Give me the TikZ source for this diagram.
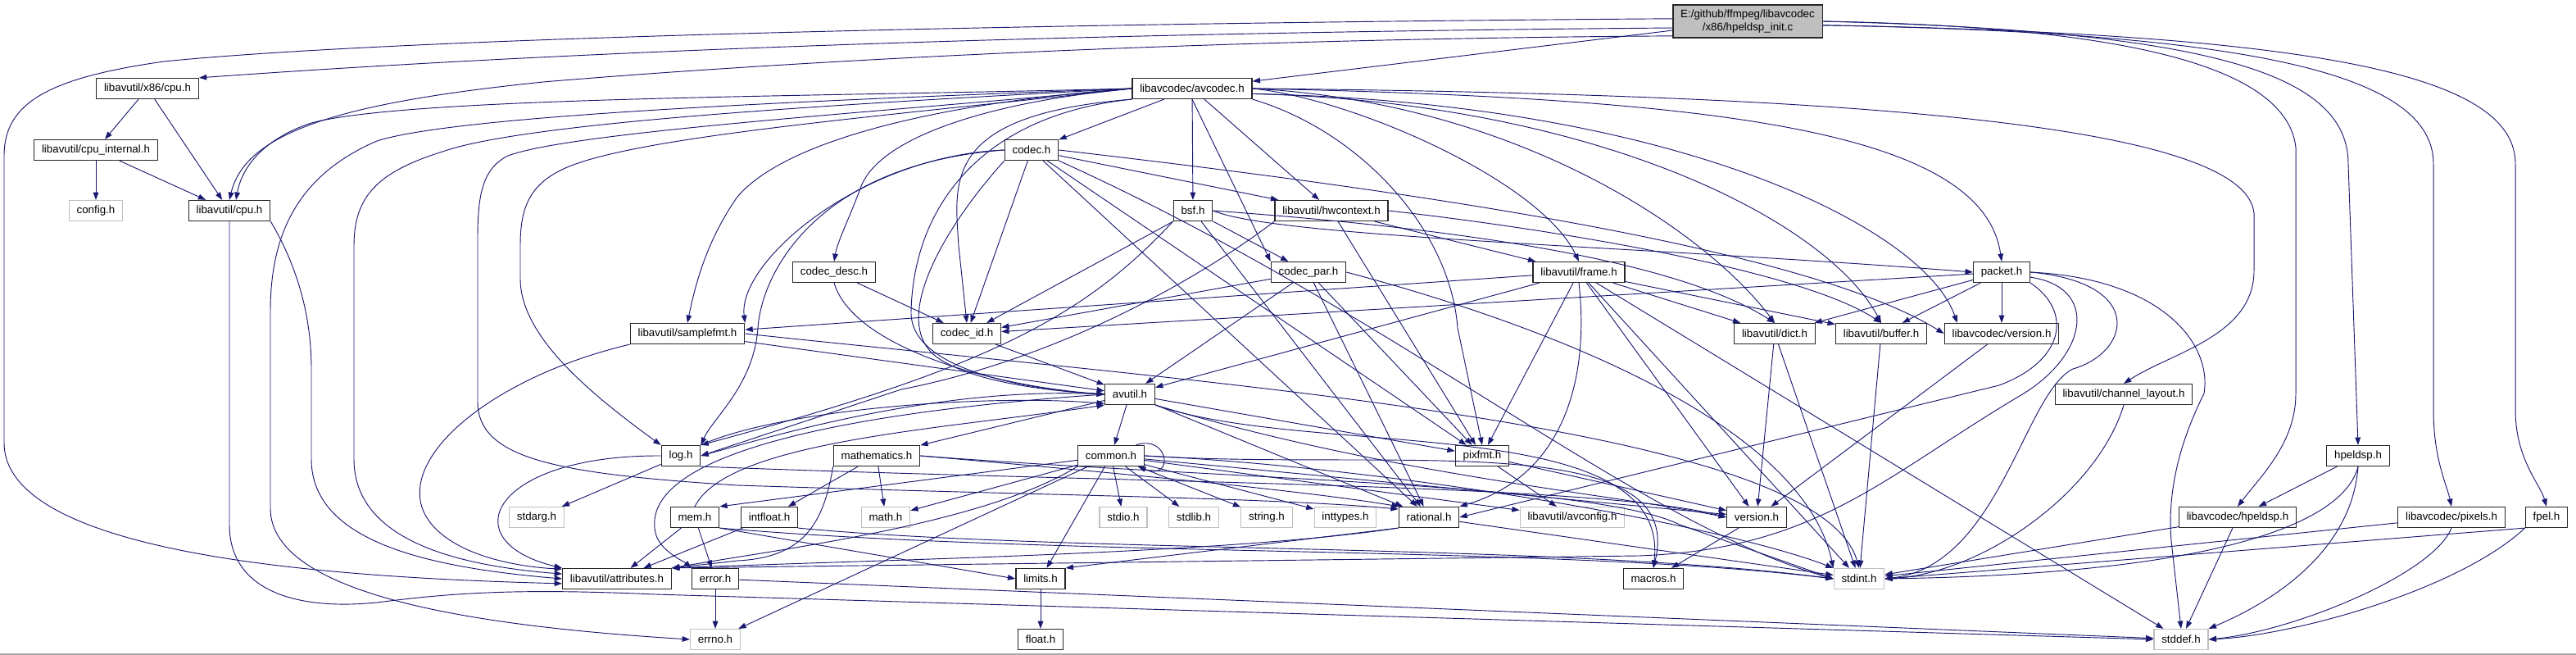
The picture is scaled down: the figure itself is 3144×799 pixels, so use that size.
\documentclass[tikz,border=0pt]{standalone}
\usepackage{fontspec}
\newfontfamily\dotfont{Liberation Sans}
\usepackage{tikz}
\usetikzlibrary{arrows.meta}
\definecolor{edgeblue}{RGB}{25,25,112}
\definecolor{sysgray}{RGB}{191,191,191}
\definecolor{framegray}{RGB}{170,170,170}

\begin{document}
\begin{tikzpicture}[x=0.75pt, y=-0.75pt,
    hdr/.style={draw=black!85, fill=white, line width=0.9pt, font=\dotfont\fontsize{10}{12}\selectfont,
      inner xsep=7pt, inner ysep=0pt, minimum height=18.75pt},
    syshdr/.style={hdr, draw=sysgray},
    rootnode/.style={hdr, fill=sysgray, align=center, minimum height=30pt, inner ysep=1pt},
    dep/.style={draw=edgeblue, line width=0.7pt, -{Triangle[length=7pt,width=5pt]}}]
\useasboundingbox (0,0) rectangle (3144,799);
\draw[framegray, line width=0.8pt] (0,798) -- (3144,798);

% headers, row by row
\node[rootnode] (root) at (2133,26) {E:/github/ffmpeg/libavcodec\\/x86/hpeldsp\_init.c};
\node[hdr] (xcpu) at (180,108) {libavutil/x86/cpu.h};
\node[hdr] (avcodec) at (1455,108) {libavcodec/avcodec.h};
\node[hdr] (cpuint) at (117,183) {libavutil/cpu\_internal.h};
\node[hdr] (codec) at (1259,183) {codec.h};
\node[syshdr] (config) at (117,257) {config.h};
\node[hdr] (cpu) at (280,257) {libavutil/cpu.h};
\node[hdr] (bsf) at (1456,257) {bsf.h};
\node[hdr] (hwctx) at (1625,257) {libavutil/hwcontext.h};
\node[hdr] (codecdesc) at (1018,332) {codec\_desc.h};
\node[hdr] (codecpar) at (1597,332) {codec\_par.h};
\node[hdr] (frame) at (1927,332) {libavutil/frame.h};
\node[hdr] (packet) at (2443,332) {packet.h};
\node[hdr] (samplefmt) at (839,407) {libavutil/samplefmt.h};
\node[hdr] (codecid) at (1180,407) {codec\_id.h};
\node[hdr] (dict) at (2166,407) {libavutil/dict.h};
\node[hdr] (buffer) at (2296,407) {libavutil/buffer.h};
\node[hdr] (lcversion) at (2443,407) {libavcodec/version.h};
\node[hdr] (avutil) at (1379,481) {avutil.h};
\node[hdr] (chlayout) at (2592,481) {libavutil/channel\_layout.h};
\node[hdr] (log) at (831,556) {log.h};
\node[hdr] (mathem) at (1070,556) {mathematics.h};
\node[hdr] (common) at (1356,556) {common.h};
\node[hdr] (pixfmt) at (1809,556) {pixfmt.h};
\node[hdr] (hpeldsp) at (2878,556) {hpeldsp.h};
\node[syshdr] (stdarg) at (655,631) {stdarg.h};
\node[hdr] (mem) at (848,631) {mem.h};
\node[hdr] (intfloat) at (939,631) {intfloat.h};
\node[syshdr] (mathh) at (1081,631) {math.h};
\node[syshdr] (stdio) at (1371,631) {stdio.h};
\node[syshdr] (stdlib) at (1457,631) {stdlib.h};
\node[syshdr] (stringh) at (1546,631) {string.h};
\node[syshdr] (inttypes) at (1642,631) {inttypes.h};
\node[hdr] (rational) at (1744,631) {rational.h};
\node[syshdr] (avconfig) at (1919,631) {libavutil/avconfig.h};
\node[hdr] (version) at (2144,631) {version.h};
\node[hdr] (lchpeldsp) at (2731,631) {libavcodec/hpeldsp.h};
\node[hdr] (pixels) at (2992,631) {libavcodec/pixels.h};
\node[hdr] (fpel) at (3108,631) {fpel.h};
\node[hdr] (attributes) at (753,706) {libavutil/attributes.h};
\node[hdr] (error) at (873,706) {error.h};
\node[hdr] (limits) at (1270,706) {limits.h};
\node[hdr] (macros) at (2018,706) {macros.h};
\node[syshdr] (stdint) at (2269,706) {stdint.h};
\node[syshdr] (errno) at (873,780) {errno.h};
\node[hdr] (floath) at (1270,780) {float.h};
\node[syshdr] (stddef) at (2662,780) {stddef.h};

% hpeldsp_init.c
\draw[dep] (root) -- (avcodec);
\draw[dep] (root.185) .. controls (1300,40) and (700,62) .. (xcpu.north east);
\draw[dep] (root.191) .. controls (1400,48) and (900,80) .. (663,100) .. controls (420,125) and (300,160) .. (cpu.north);
\draw[dep] (root.178) .. controls (1300,28) and (500,45) .. (200,75) .. controls (60,95) and (5,125) .. (5,190) -- (5,540) .. controls (5,680) and (420,705) .. (attributes.185);
\draw[dep] (root.east) .. controls (2550,32) and (2790,70) .. (2802,180) -- (2802,480) .. controls (2802,540) and (2760,580) .. (lchpeldsp.north);
\draw[dep] (root.east) .. controls (2700,38) and (2866,90) .. (2866,200) -- (hpeldsp.north);
\draw[dep] (root.357) .. controls (2750,40) and (2970,90) .. (2970,200) -- (2970,500) .. controls (2970,560) and (2986,590) .. (pixels.north);
\draw[dep] (root.357) .. controls (2850,42) and (3070,95) .. (3070,200) -- (3070,500) .. controls (3070,560) and (3100,590) .. (fpel.north);

% cpu headers
\draw[dep] (xcpu) -- (cpuint);
\draw[dep] (xcpu) -- (cpu);
\draw[dep] (cpuint) -- (config);
\draw[dep] (cpuint) -- (cpu);
\draw[dep] (cpu.south east) .. controls (360,320) and (380,380) .. (380,450) -- (380,560) .. controls (380,660) and (520,692) .. (attributes.180);
\draw[dep] (cpu.south) -- (280,640) .. controls (280,720) and (360,745) .. (460,735) .. controls (560,722) and (640,718) .. (800,725) -- (stddef.west);

% avcodec.h
\draw[dep] (avcodec.west) .. controls (1000,118) and (500,118) .. (380,150) .. controls (320,170) and (295,205) .. ([xshift=6pt]cpu.north);
\draw[dep] (avcodec.west) .. controls (1000,122) and (560,140) .. (460,172) .. controls (360,215) and (330,290) .. (330,380) -- (330,620) .. controls (330,730) and (600,765) .. (errno.west);
\draw[dep] (avcodec.west) .. controls (1000,128) and (640,150) .. (540,185) .. controls (460,210) and (432,240) .. (432,300) -- (432,560) .. controls (432,660) and (560,690) .. (attributes.175);
\draw[dep] (avcodec.west) .. controls (1100,135) and (700,160) .. (620,190) .. controls (590,205) and (583,235) .. (583,290) -- (583,490) .. controls (583,560) and (680,578) .. (900,592) .. controls (1300,605) and (1550,607) .. (rational.165);
\draw[dep] (avcodec.west) .. controls (1100,140) and (780,165) .. (690,205) .. controls (645,225) and (635,255) .. (635,300) -- (635,340) .. controls (635,410) and (720,480) .. (log.north west);
\draw[dep] (avcodec.west) .. controls (1150,125) and (960,170) .. (900,240) .. controls (865,290) and (850,340) .. (samplefmt.north);
\draw[dep] (avcodec.west) .. controls (1200,125) and (1070,170) .. (1050,230) .. controls (1035,270) and (1022,295) .. (codecdesc.north);
\draw[dep] (avcodec.south west) .. controls (1150,140) and (1165,220) .. (1170,300) -- (codecid.north);
\draw[dep] (avcodec.south west) .. controls (1200,140) and (1115,250) .. (1112,380) .. controls (1110,450) and (1250,475) .. (avutil.west);
\draw[dep] (avcodec) -- (codec);
\draw[dep] (avcodec) -- (bsf);
\draw[dep] (avcodec) -- (hwctx);
\draw[dep] (avcodec.south) -- (codecpar.north west);
\draw[dep] (avcodec.south east) .. controls (1660,160) and (1770,280) .. (1779,400) -- (pixfmt.north);
\draw[dep] (avcodec.east) .. controls (1650,120) and (1880,220) .. (frame.north);
\draw[dep] (avcodec.east) .. controls (1850,125) and (2080,280) .. (dict.north);
\draw[dep] (avcodec.355) .. controls (1950,125) and (2230,270) .. (buffer.north);
\draw[dep] (avcodec.355) .. controls (2050,125) and (2350,280) .. ([xshift=12pt]lcversion.north west);
\draw[dep] (avcodec.east) .. controls (2100,120) and (2420,160) .. (packet.north);
\draw[dep] (avcodec.east) .. controls (2250,115) and (2740,150) .. (2751,260) -- (2751,330) .. controls (2751,410) and (2650,430) .. (chlayout.north);

% codec.h
\draw[dep] (codec.west) .. controls (1050,190) and (900,320) .. (samplefmt.north east);
\draw[dep] (codec.west) .. controls (1000,200) and (930,330) .. (925,400) .. controls (920,470) and (870,510) .. (log.north east);
\draw[dep] (codec.south west) .. controls (1150,280) and (1080,400) .. (1150,440) .. controls (1200,470) and (1300,478) .. (avutil.west);
\draw[dep] (codec) -- (codecid);
\draw[dep] (codec) -- (hwctx);
\draw[dep] (codec) -- (pixfmt);
\draw[dep] (codec) -- (rational);
\draw[dep] (codec.east) .. controls (1700,230) and (2200,300) .. (lcversion.west);
\draw[dep] (codec.south east) .. controls (1700,380) and (2000,640) .. (stdint.west);

% bsf.h
\draw[dep] (bsf.east) .. controls (1800,280) and (2050,320) .. (dict.north);
\draw[dep] (bsf.east) .. controls (1560,290) and (2000,300) .. (packet.west);
\draw[dep] (bsf) -- (codecid);
\draw[dep] (bsf) -- (codecpar);
\draw[dep] (bsf) -- (rational);
\draw[dep] (bsf.south west) .. controls (1320,390) and (1200,450) .. (log.north east);

% hwcontext.h
\draw[dep] (hwctx) -- (frame);
\draw[dep] (hwctx.east) .. controls (1900,280) and (2200,330) .. (buffer.north);
\draw[dep] (hwctx) -- (pixfmt);
\draw[dep] (hwctx.south west) .. controls (1450,350) and (1280,440) .. (1100,475) -- (log.east);

% codec_desc.h, codec_par.h, codec_id.h
\draw[dep] (codecdesc) -- (codecid);
\draw[dep] (codecdesc.south) .. controls (1040,420) and (1200,470) .. (avutil.west);
\draw[dep] (codecpar) -- (codecid);
\draw[dep] (codecpar) -- (avutil);
\draw[dep] (codecpar) -- (rational);
\draw[dep] (codecpar) -- (pixfmt);
\draw[dep] (codecpar.east) .. controls (1900,400) and (2200,520) .. (stdint.north west);
\draw[dep] (codecid) -- (avutil);

% frame.h
\draw[dep] (frame) -- (samplefmt);
\draw[dep] (frame) -- (avutil);
\draw[dep] (frame) -- (dict);
\draw[dep] (frame) -- (buffer);
\draw[dep] (frame) -- (pixfmt);
\draw[dep] (frame.south) .. controls (1940,460) and (1910,580) .. (rational.north east);
\draw[dep] (frame) -- (version);
\draw[dep] (frame) -- (stdint);
\draw[dep] (frame) -- (stddef);

% packet.h
\draw[dep] (packet) -- (lcversion);
\draw[dep] (packet) -- (buffer);
\draw[dep] (packet) -- (dict);
\draw[dep] (packet) -- (codecid);
\draw[dep] (packet.south east) .. controls (2530,380) and (2520,440) .. (2440,470) -- (rational.east);
\draw[dep] (packet.350) .. controls (2560,350) and (2550,430) .. (2470,480) .. controls (2300,580) and (2220,670) .. (2000,678) -- (attributes.north east);
\draw[dep] (packet.east) .. controls (2620,345) and (2600,430) .. (2530,450) .. controls (2470,480) and (2440,690) .. (stdint.east);
\draw[dep] (packet.east) .. controls (2640,340) and (2700,420) .. (2690,480) .. controls (2660,540) and (2645,600) .. (2650,660) -- (stddef.north);

% libavutil headers
\draw[dep] (samplefmt) -- (avutil);
\draw[dep] (samplefmt.south west) .. controls (600,460) and (480,560) .. (520,630) .. controls (550,680) and (640,692) .. (attributes.170);
\draw[dep] (samplefmt.east) .. controls (1500,470) and (2220,520) .. (stdint.north);
\draw[dep] (dict) -- (version);
\draw[dep] (dict) -- (stdint);
\draw[dep] (buffer) -- (stdint);
\draw[dep] (lcversion) -- (version);
\draw[dep] (chlayout.south) .. controls (2560,600) and (2420,700) .. (stdint.east);

% avutil.h
\draw[dep] (avutil) -- (common);
\draw[dep] (avutil) -- (mathem);
\draw[dep] (avutil) -- (pixfmt);
\draw[dep] (avutil) -- (rational);
\draw[dep] (avutil.west) .. controls (1150,470) and (950,530) .. (log.east);
\draw[dep] (avutil.west) .. controls (1000,505) and (780,560) .. (800,650) .. controls (805,672) and (835,685) .. (error.north west);
\draw[dep] (avutil.south east) .. controls (1700,580) and (1950,600) .. (version.west);
\draw[dep] (avutil.south east) .. controls (1600,560) and (2040,500) .. (macros.north);

% log.h
\draw[dep] (log) -- (stdarg);
\draw[dep] (log.north east) .. controls (950,500) and (1200,480) .. (avutil.200);
\draw[dep] (log.west) .. controls (600,555) and (550,660) .. (attributes.north west);
\draw[dep] (log.south east) .. controls (1400,590) and (1950,590) .. (version.west);

% mathematics.h
\draw[dep] (mathem) -- (mathh);
\draw[dep] (mathem) -- (intfloat);
\draw[dep] (mathem.south west) .. controls (1005,640) and (980,680) .. (900,684) -- (attributes.north east);
\draw[dep] (mathem.east) .. controls (1400,580) and (1600,600) .. (rational.160);
\draw[dep] (mathem.east) .. controls (1500,585) and (1950,590) .. (2050,640) -- (stdint.west);

% common.h
\draw[dep] ([xshift=-8pt]common.north east) .. controls +(40,-14) and +(45,18) .. ([xshift=-6pt]common.south east);
\draw[dep] (common) -- (mathh);
\draw[dep] (common) -- (stdio);
\draw[dep] (common) -- (stdlib);
\draw[dep] (common) -- (stringh);
\draw[dep] (common) -- (inttypes);
\draw[dep] (common) -- (avconfig);
\draw[dep] (common) -- (version);
\draw[dep] (common) -- (limits);
\draw[dep] (common) -- (errno);
\draw[dep] (common) -- (mem.north east);
\draw[dep] (common.east) .. controls (1700,575) and (2060,520) .. (macros.north);
\draw[dep] (common.east) .. controls (1700,570) and (2100,640) .. (stdint.north west);
\draw[dep] (common.south west) .. controls (1200,640) and (950,670) .. (attributes.north east);

% mem.h, intfloat.h, error.h
\draw[dep] (mem) -- (error);
\draw[dep] (mem) -- (attributes);
\draw[dep] (mem.south east) -- (limits.west);
\draw[dep] (mem.south east) .. controls (1300,680) and (1900,665) .. (stdint.west);
\draw[dep] (mem.north) .. controls (888,538) and (1148,524) .. (avutil.south west);
\draw[dep] (intfloat) -- (attributes);
\draw[dep] (intfloat.south east) .. controls (1300,675) and (1900,662) .. (stdint.west);
\draw[dep] (error) -- (errno);
\draw[dep] (error) -- (stddef);

% rational.h, pixfmt.h, version.h, limits.h
\draw[dep] (rational) -- (stdint);
\draw[dep] (rational.south west) -- (limits.north east);
\draw[dep] (rational.south west) .. controls (1500,675) and (1100,682) .. (attributes.north east);
\draw[dep] (pixfmt) -- (avconfig);
\draw[dep] (pixfmt) -- (version);
\draw[dep] (version) -- (macros);
\draw[dep] (limits) -- (floath);

% hpeldsp headers
\draw[dep] (hpeldsp) -- (lchpeldsp);
\draw[dep] (hpeldsp.south) .. controls (2860,640) and (2700,700) .. (stdint.east);
\draw[dep] (hpeldsp.south) .. controls (2870,680) and (2760,740) .. (stddef.north east);
\draw[dep] (lchpeldsp) -- (stdint);
\draw[dep] (lchpeldsp) -- (stddef);
\draw[dep] (pixels) -- (stdint);
\draw[dep] (pixels.south) .. controls (2970,700) and (2800,770) .. (stddef.east);
\draw[dep] (fpel.south west) -- (stdint.east);
\draw[dep] (fpel.south west) .. controls (3000,720) and (2800,775) .. (stddef.east);
\end{tikzpicture}
\end{document}
